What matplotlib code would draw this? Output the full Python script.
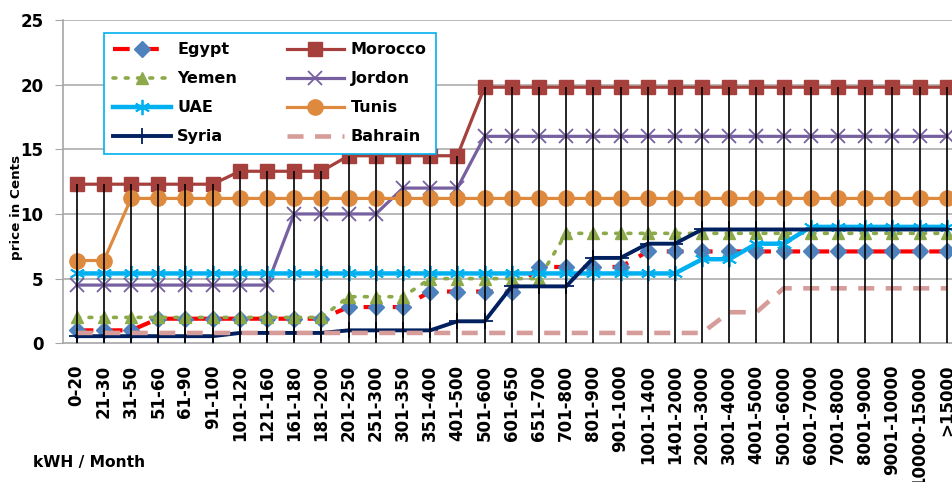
import matplotlib
matplotlib.use("Agg")
import matplotlib.pyplot as plt
import numpy as np

plt.rcParams['font.family'] = ['DejaVu Sans']
plt.rcParams['font.weight'] = 'bold'

# kWh per month bands
bands = ["0-20", "21-30", "31-50", "51-60", "61-90", "91-100", "101-120",
         "121-160", "161-180", "181-200", "201-250", "251-300", "301-350",
         "351-400", "401-500", "501-600", "601-650", "651-700", "701-800",
         "801-900", "901-1000", "1001-1400", "1401-2000", "2001-3000",
         "3001-4000", "4001-5000", "5001-6000", "6001-7000", "7001-8000",
         "8001-9000", "9001-10000", "10000-15000", ">15000"]

# price in cents
egypt = [1.0, 1.0, 1.0, 1.9, 1.9, 1.9, 1.9, 1.9, 1.9, 1.9, 2.8, 2.8, 2.8,
         4.0, 4.0, 4.0, 4.0, 5.9, 5.9, 5.9, 5.9, 7.1, 7.1, 7.1, 7.1, 7.1,
         7.1, 7.1, 7.1, 7.1, 7.1, 7.1, 7.1]
morocco = [12.3, 12.3, 12.3, 12.3, 12.3, 12.3, 13.3, 13.3, 13.3, 13.3,
           14.5, 14.5, 14.5, 14.5, 14.5, 19.8, 19.8, 19.8, 19.8, 19.8,
           19.8, 19.8, 19.8, 19.8, 19.8, 19.8, 19.8, 19.8, 19.8, 19.8,
           19.8, 19.8, 19.8]
yemen = [2.0, 2.0, 2.0, 2.0, 2.0, 2.0, 2.0, 2.0, 2.0, 2.0, 3.6, 3.6, 3.6,
         5.0, 5.0, 5.0, 5.0, 5.0, 8.5, 8.5, 8.5, 8.5, 8.5, 8.5, 8.5, 8.5,
         8.5, 8.5, 8.5, 8.5, 8.5, 8.5, 8.5]
jordon = [4.5, 4.5, 4.5, 4.5, 4.5, 4.5, 4.5, 4.5, 10.0, 10.0, 10.0, 10.0,
          12.0, 12.0, 12.0, 16.0, 16.0, 16.0, 16.0, 16.0, 16.0, 16.0, 16.0,
          16.0, 16.0, 16.0, 16.0, 16.0, 16.0, 16.0, 16.0, 16.0, 16.0]
uae = [5.4, 5.4, 5.4, 5.4, 5.4, 5.4, 5.4, 5.4, 5.4, 5.4, 5.4, 5.4, 5.4,
       5.4, 5.4, 5.4, 5.4, 5.4, 5.4, 5.4, 5.4, 5.4, 5.4, 6.5, 6.5, 7.7,
       7.7, 9.0, 9.0, 9.0, 9.0, 9.0, 9.0]
tunis = [6.4, 6.4, 11.2, 11.2, 11.2, 11.2, 11.2, 11.2, 11.2, 11.2, 11.2,
         11.2, 11.2, 11.2, 11.2, 11.2, 11.2, 11.2, 11.2, 11.2, 11.2, 11.2,
         11.2, 11.2, 11.2, 11.2, 11.2, 11.2, 11.2, 11.2, 11.2, 11.2, 11.2]
syria = [0.55, 0.55, 0.55, 0.55, 0.55, 0.55, 0.8, 0.8, 0.8, 0.8, 1.0, 1.0,
         1.0, 1.0, 1.7, 1.7, 4.4, 4.4, 4.4, 6.6, 6.6, 7.7, 7.7, 8.8, 8.8,
         8.8, 8.8, 8.8, 8.8, 8.8, 8.8, 8.8, 8.8]
bahrain = [0.8, 0.8, 0.8, 0.8, 0.8, 0.8, 0.8, 0.8, 0.8, 0.8, 0.8, 0.8,
           0.8, 0.8, 0.8, 0.8, 0.8, 0.8, 0.8, 0.8, 0.8, 0.8, 0.8, 0.8, 2.4,
           2.4, 4.25, 4.25, 4.25, 4.25, 4.25, 4.25, 4.25]

x = np.arange(len(bands))

fig = plt.figure(figsize=(9.52, 4.82), dpi=100)
ax = fig.add_axes([0.0663, 0.2878, 0.9425, 0.6708])

# grid
for v in [5, 10, 15, 20, 25]:
    ax.axhline(v, color='#A6A6A6', lw=1.1, zorder=0)

lines = {}
lines['Egypt'], = ax.plot(x, egypt, color='#FF0000', lw=3, dashes=(4, 3),
                          marker='D', ms=8, mfc='#4F81BD', mec='#4F81BD', zorder=2)
lines['Morocco'], = ax.plot(x, morocco, color='#A5403C', lw=2.3, marker='s',
                            ms=10.5, mfc='#A5403C', mec='#A5403C', zorder=2)
lines['Yemen'], = ax.plot(x, yemen, color='#8DAA4B', lw=2.6, dashes=(0.8, 2.6),
                          dash_capstyle='round', marker='^', ms=9,
                          mfc='#8DAA4B', mec='#8DAA4B', zorder=2)
lines['Jordon'], = ax.plot(x, jordon, color='#7660A0', lw=2.3, marker='x',
                           ms=10.5, mew=1.3, zorder=2)
lines['UAE'], = ax.plot(x, uae, color='#00B0F0', lw=3.2, marker=(6, 2, 0),
                        ms=11, mew=1.3, zorder=2)
lines['Tunis'], = ax.plot(x, tunis, color='#DE8A3E', lw=2.3, marker='o',
                          ms=11, mfc='#DE8A3E', mec='#DE8A3E', zorder=2)
lines['Syria'], = ax.plot(x, syria, color='#002060', lw=2.8, marker='+',
                          ms=11, mew=1.3, zorder=2)
lines['Bahrain'], = ax.plot(x, bahrain, color='#D69C9A', lw=3.3, dashes=(3.5, 2.5),
                            solid_capstyle='round', zorder=2)

# drop lines from the top series down to the axis
top = np.max(np.vstack([egypt, morocco, yemen, jordon, uae, tunis, syria, bahrain]), axis=0)
ax.vlines(x, 0, top, color='black', lw=1.2, zorder=5)

ax.set_xlim(-0.5, len(bands) - 0.5)
ax.set_ylim(0, 25)
ax.set_yticks([0, 5, 10, 15, 20, 25])
ax.set_xticks(x)
ax.set_xticklabels(bands, rotation=90, ha='center', va='top', fontsize=12, fontweight='bold')
ax.tick_params(axis='x', length=0, pad=15.5)
ax.tick_params(axis='y', length=5.5, color='#A6A6A6', pad=8.6, labelsize=12)
for lab in ax.get_yticklabels():
    lab.set_fontweight('bold')

for s in ['top', 'right']:
    ax.spines[s].set_visible(False)
for s in ['left', 'bottom']:
    ax.spines[s].set_color('#A6A6A6')
    ax.spines[s].set_linewidth(1.2)

order = ['Egypt', 'Yemen', 'UAE', 'Syria', 'Morocco', 'Jordon', 'Tunis', 'Bahrain']
leg = ax.legend([lines[k] for k in order], order, loc='upper left',
                bbox_to_anchor=(0.0456, 0.96), borderaxespad=0, ncol=2,
                fontsize=11.5, handlelength=3.6, handletextpad=0.4,
                columnspacing=3.1, labelspacing=0.88, borderpad=0.58,
                fancybox=False, framealpha=1)
leg.get_frame().set_edgecolor('#00B0F0')
leg.get_frame().set_linewidth(1.2)
leg.set_zorder(10)
for t in leg.get_texts():
    t.set_fontweight('bold')

fig.text(17 / 952, 1 - 207 / 482, 'price in Cents', rotation=90, ha='center',
         va='center', fontsize=9.7, fontweight='bold')
fig.text(33 / 952, 1 - 462 / 482, 'kWH / Month', ha='left', va='center',
         fontsize=11.2, fontweight='bold')

fig.savefig('out.png', dpi=100)
